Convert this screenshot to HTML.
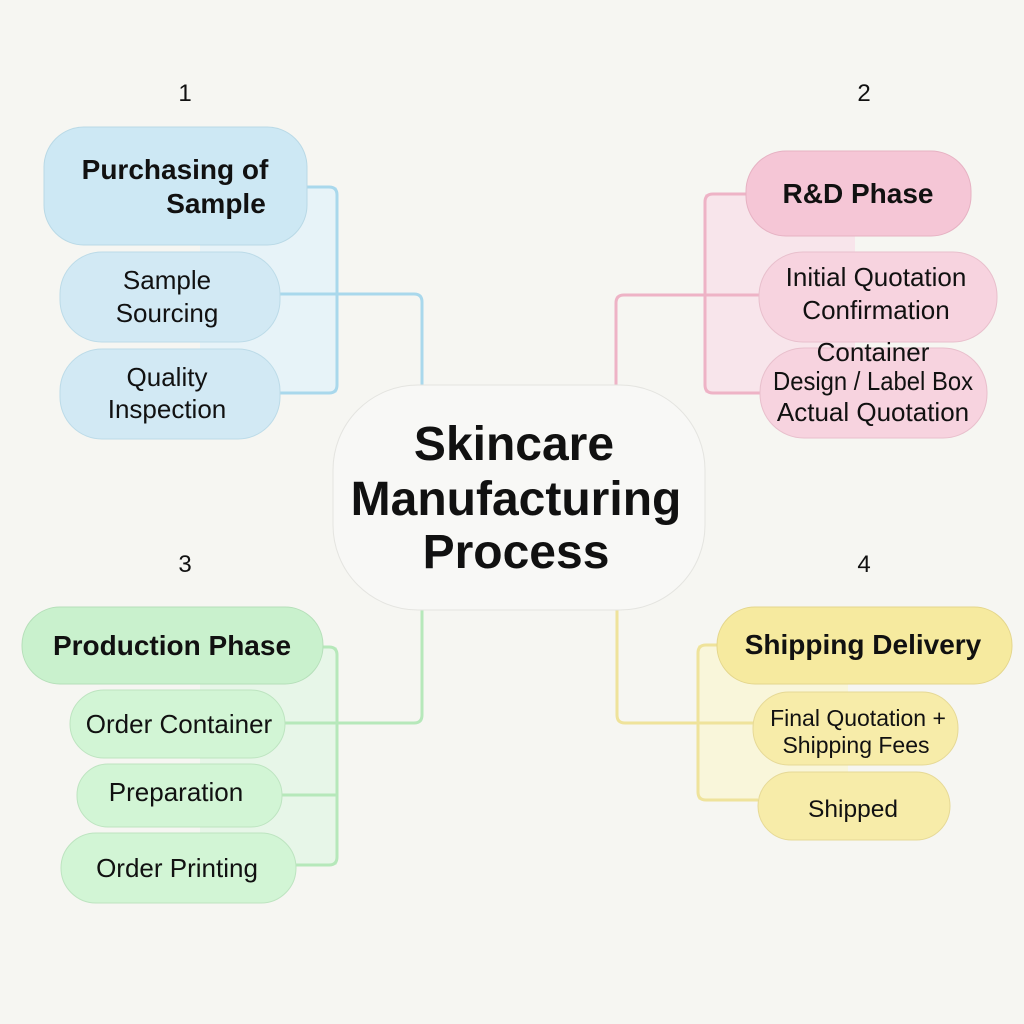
<!DOCTYPE html>
<html><head><meta charset="utf-8"><style>
html,body{margin:0;padding:0;background:#f6f6f2;}
svg{display:block;}
text{font-family:"Liberation Sans",Arial,sans-serif;fill:#111;}
.b{font-weight:bold;font-size:28px;}
.r{font-size:26px;}
.n{font-size:24px;}
</style></head><body>
<svg width="1024" height="1024" viewBox="0 0 1024 1024" xmlns="http://www.w3.org/2000/svg">
<rect width="1024" height="1024" fill="#f6f6f2"/>

<!-- inner bracket fills -->
<rect x="200" y="187" width="137" height="206" fill="#e7f3f8"/>
<rect x="705" y="194" width="150" height="199" fill="#f8e5eb"/>
<rect x="200" y="647" width="137" height="218" fill="#e7f6e8"/>
<rect x="698" y="645" width="150" height="155" fill="#f9f6da"/>

<!-- connectors -->
<g fill="none" stroke-width="3" stroke-linejoin="round">
  <path d="M307 187 H329 Q337 187 337 195 V385 Q337 393 329 393 H280" stroke="#a9d8ec"/>
  <path d="M280 294 H414 Q422 294 422 302 V386" stroke="#a9d8ec"/>
  <path d="M746 194 H713 Q705 194 705 202 V385 Q705 393 713 393 H760" stroke="#eeb3c6"/>
  <path d="M759 295 H624 Q616 295 616 303 V386" stroke="#eeb3c6"/>
  <path d="M323 647 H329 Q337 647 337 655 V857 Q337 865 329 865 H296" stroke="#b6e8ba"/>
  <path d="M282 795 H337" stroke="#b6e8ba"/>
  <path d="M285 723 H414 Q422 723 422 715 V609" stroke="#b6e8ba"/>
  <path d="M717 645 H706 Q698 645 698 653 V792 Q698 800 706 800 H758" stroke="#efe39b"/>
  <path d="M753 723 H625 Q617 723 617 715 V609" stroke="#efe39b"/>
</g>

<!-- center -->
<rect x="333" y="385" width="372" height="225" rx="85" fill="#f8f8f6" stroke="#e4e4e0" stroke-width="1"/>
<text x="514" y="460" text-anchor="middle" font-size="48" font-weight="bold">Skincare</text>
<text x="516" y="515" text-anchor="middle" font-size="48" font-weight="bold">Manufacturing</text>
<text x="516" y="568" text-anchor="middle" font-size="48" font-weight="bold">Process</text>

<!-- numbers -->
<text class="n" x="185" y="101" text-anchor="middle">1</text>
<text class="n" x="864" y="101" text-anchor="middle">2</text>
<text class="n" x="185" y="572" text-anchor="middle">3</text>
<text class="n" x="864" y="572" text-anchor="middle">4</text>

<!-- blue -->
<rect x="44" y="127" width="263" height="118" rx="40" fill="#cde8f4" stroke="#b9d9e6" stroke-width="1"/>
<text class="b" x="175" y="179" text-anchor="middle">Purchasing of</text>
<text class="b" x="216" y="213" text-anchor="middle">Sample</text>
<rect x="60" y="252" width="220" height="90" rx="42" fill="#d2e9f4" stroke="#bcdbe8" stroke-width="1"/>
<text class="r" x="167" y="289" text-anchor="middle">Sample</text>
<text class="r" x="167" y="322" text-anchor="middle">Sourcing</text>
<rect x="60" y="349" width="220" height="90" rx="42" fill="#d2e9f4" stroke="#bcdbe8" stroke-width="1"/>
<text class="r" x="167" y="386" text-anchor="middle">Quality</text>
<text class="r" x="167" y="418" text-anchor="middle">Inspection</text>

<!-- pink -->
<rect x="746" y="151" width="225" height="85" rx="40" fill="#f5c6d6" stroke="#e6b2c3" stroke-width="1"/>
<text class="b" x="858" y="203" text-anchor="middle">R&amp;D Phase</text>
<rect x="759" y="252" width="238" height="90" rx="44" fill="#f7d3df" stroke="#e8bfcc" stroke-width="1"/>
<text class="r" x="876" y="286" text-anchor="middle">Initial Quotation</text>
<text class="r" x="876" y="319" text-anchor="middle">Confirmation</text>
<rect x="760" y="348" width="227" height="90" rx="44" fill="#f7d3df" stroke="#e8bfcc" stroke-width="1"/>
<text class="r" x="873" y="361" text-anchor="middle">Container</text>
<text class="r" x="873" y="390" text-anchor="middle" textLength="200" lengthAdjust="spacingAndGlyphs">Design / Label Box</text>
<text class="r" x="873" y="421" text-anchor="middle">Actual Quotation</text>

<!-- green -->
<rect x="22" y="607" width="301" height="77" rx="38" fill="#c9f1cd" stroke="#b5dfb9" stroke-width="1"/>
<text class="b" x="172" y="655" text-anchor="middle">Production Phase</text>
<rect x="70" y="690" width="215" height="68" rx="34" fill="#d2f5d5" stroke="#bde4c0" stroke-width="1"/>
<text class="r" x="179" y="733" text-anchor="middle">Order Container</text>
<rect x="77" y="764" width="205" height="63" rx="31" fill="#d2f5d5" stroke="#bde4c0" stroke-width="1"/>
<text class="r" x="176" y="801" text-anchor="middle">Preparation</text>
<rect x="61" y="833" width="235" height="70" rx="35" fill="#d2f5d5" stroke="#bde4c0" stroke-width="1"/>
<text class="r" x="177" y="877" text-anchor="middle">Order Printing</text>

<!-- yellow -->
<rect x="717" y="607" width="295" height="77" rx="38" fill="#f6ea9f" stroke="#e4d68c" stroke-width="1"/>
<text class="b" x="863" y="654" text-anchor="middle">Shipping Delivery</text>
<rect x="753" y="692" width="205" height="73" rx="36" fill="#f7eca9" stroke="#e6d996" stroke-width="1"/>
<text x="858" y="726" text-anchor="middle" font-size="23">Final Quotation +</text>
<text x="856" y="753" text-anchor="middle" font-size="23">Shipping Fees</text>
<rect x="758" y="772" width="192" height="68" rx="34" fill="#f7eca9" stroke="#e6d996" stroke-width="1"/>
<text x="853" y="817" text-anchor="middle" font-size="24.5">Shipped</text>
</svg>
</body></html>
